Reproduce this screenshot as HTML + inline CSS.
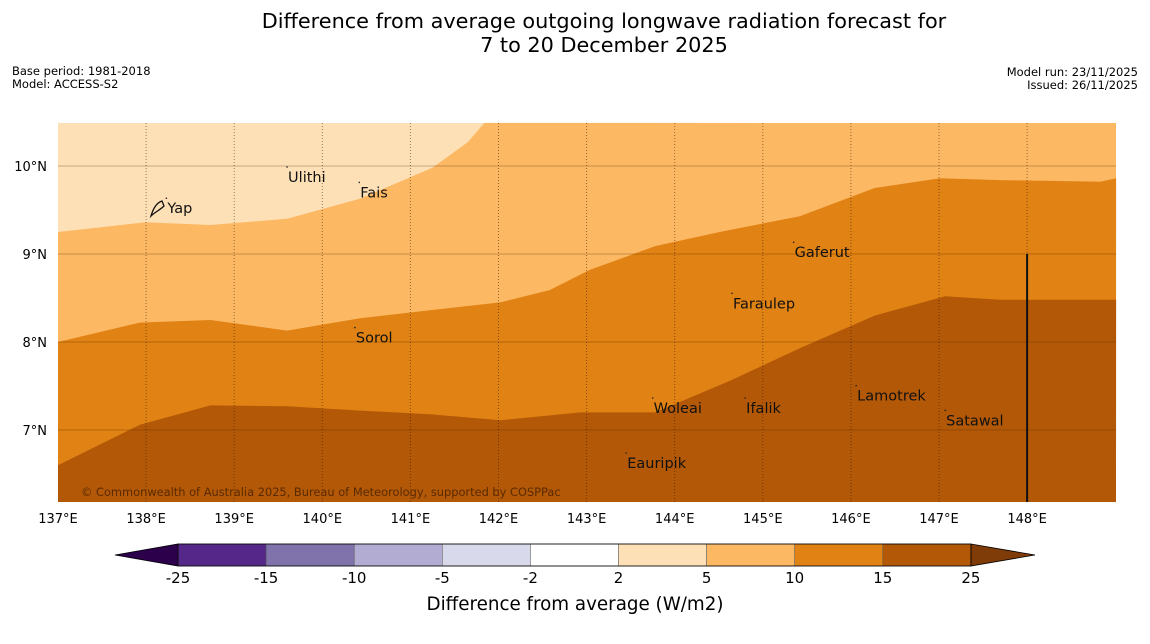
<!DOCTYPE html>
<html><head><meta charset="utf-8"><style>
body{margin:0;background:#fff;font-family:"DejaVu Sans","Liberation Sans",sans-serif;}
svg{display:block}
</style></head><body>
<svg id="c" width="1150" height="644" xmlns="http://www.w3.org/2000/svg" font-family="DejaVu Sans, Liberation Sans, sans-serif">
<text x="604" y="28" font-size="20.8" text-anchor="middle">Difference from average outgoing longwave radiation forecast for</text>
<text x="604" y="52" font-size="20.8" text-anchor="middle">7 to 20 December 2025</text>
<text x="12" y="75" font-size="11.5">Base period: 1981-2018</text>
<text x="12" y="88" font-size="11.5">Model: ACCESS-S2</text>
<text x="1138" y="76" font-size="11.5" text-anchor="end">Model run: 23/11/2025</text>
<text x="1138" y="89" font-size="11.5" text-anchor="end">Issued: 26/11/2025</text>
<g id="map"></g>
<g id="cb"></g>
</svg>
<script>
const NS="http://www.w3.org/2000/svg";
const lonTicks=[137,138,139,140,141,142,143,144,145,146,147,148];
const latTicks=[7,8,9,10];
const b1Lon=[137,137.99,138.73,139.60,140.43,141.25,141.65,141.84];
const b1Lat=[9.25,9.36,9.33,9.40,9.63,9.98,10.27,10.49];
const b2Lon=[137,137.93,138.73,139.60,140.43,141.22,142.02,142.58,143.04,143.78,144.51,145.42,146.27,147.01,147.69,148.37,148.83,149.01];
const b2Lat=[8.0,8.22,8.25,8.13,8.27,8.36,8.45,8.59,8.82,9.09,9.25,9.43,9.75,9.86,9.84,9.83,9.82,9.86];
const b3Lon=[137,137.93,138.73,139.60,140.43,141.22,142.02,142.93,143.78,144.63,145.42,146.27,147.07,147.69,149.01];
const b3Lat=[6.60,7.06,7.28,7.27,7.22,7.18,7.11,7.20,7.20,7.56,7.93,8.30,8.52,8.48,8.48];
const islands=["Yap","Ulithi","Fais","Gaferut","Faraulep","Sorol","Woleai","Ifalik","Lamotrek","Satawal","Eauripik"];
const islLon=[138.23,139.60,140.42,145.35,144.65,140.37,143.75,144.80,146.06,147.07,143.45];
const islLat=[9.52,9.875,9.70,9.02,8.44,8.05,7.25,7.25,7.39,7.11,6.625];
const cbLabels=["-25","-15","-10","-5","-2","2","5","10","15","25"];
const cbColors=["#542788","#8073ac","#b2abd2","#d8daeb","#ffffff","#fee0b6","#fdb863","#e08214","#b35806"];
const X0=58,X1=1116,Y0=123,Y1=502;
const x=lon=>58+(lon-137)*88.1;
const y=lat=>166+(10-lat)*88;
function el(t,a,p){const e=document.createElementNS(NS,t);for(const k in a)e.setAttribute(k,a[k]);p.appendChild(e);return e;}
const map=document.getElementById('map');
function pts(lo,la){return lo.map((v,i)=>x(v).toFixed(1)+','+y(la[i]).toFixed(1)).join(' ');}
let r=el('rect',{x:X0,y:Y0,width:X1-X0,height:Y1-Y0,fill:'#fee0b6'},map);

let p=el('polygon',{points:pts(b1Lon,b1Lat)+` ${X1},${Y0} ${X1},${Y1} ${X0},${Y1}`,fill:'#fdb863'},map);

p=el('polygon',{points:pts(b2Lon,b2Lat)+` ${X1},${Y1} ${X0},${Y1}`,fill:'#e08214'},map);

p=el('polygon',{points:pts(b3Lon,b3Lat)+` ${X1},${Y1} ${X0},${Y1}`,fill:'#b35806'},map);

latTicks.forEach(l=>{
 let g=el('line',{x1:X0,x2:X1,y1:y(l),y2:y(l),stroke:'rgba(80,40,0,0.3)','stroke-width':1},map);
 
 let t=el('text',{x:47,y:y(l)+5,'font-size':13,'text-anchor':'end'},map);t.textContent=l+'°N';
 
});
lonTicks.forEach(l=>{
 if(l>137){let g=el('line',{x1:x(l),x2:x(l),y1:Y0,y2:Y1,stroke:'rgba(40,20,0,0.5)','stroke-width':1,'stroke-dasharray':'1,2'},map);
 }
 let t=el('text',{x:x(l),y:523,'font-size':13,'text-anchor':'middle'},map);t.textContent=l+'°E';
 
});
let bl=el('line',{x1:x(148),x2:x(148),y1:y(9),y2:Y1,stroke:'#111','stroke-width':2},map);

islands.forEach((n,i)=>{
 let d=el('circle',{cx:x(islLon[i]),cy:y(islLat[i])-10,r:0.8,fill:'#222'},map);
 
 let t=el('text',{x:x(islLon[i])+1,y:y(islLat[i])+5,'font-size':14.5,fill:'#111'},map);t.textContent=n;
 
});
let yi=el('path',{d:'M151,216 C153,209 156,203 162,201 L164,206 C160,210 155,212 151,216 Z',fill:'none',stroke:'#111','stroke-width':1.3},map);

let cp=el('text',{x:81,y:496,'font-size':11.4,fill:'#5a2a00'},map);cp.textContent='© Commonwealth of Australia 2025, Bureau of Meteorology, supported by COSPPac';

const cb=document.getElementById('cb');
const CX0=178,CW=88.1,CY=544,CH=22;
let tl=el('polygon',{points:`115,555 ${CX0},${CY} ${CX0},${CY+CH}`,fill:'#2d004b',stroke:'#000','stroke-width':0.8},cb);

cbColors.forEach((c,i)=>{let s=el('rect',{x:CX0+i*CW,y:CY,width:CW,height:CH,fill:c,stroke:'#555','stroke-width':0.5},cb);
 });
let tr=el('polygon',{points:`${CX0+9*CW},${CY} 1035,555 ${CX0+9*CW},${CY+CH}`,fill:'#7f3b08',stroke:'#000','stroke-width':0.8},cb);

el('rect',{x:CX0,y:CY,width:9*CW,height:CH,fill:'none',stroke:'#000','stroke-width':0.8},cb);
cbLabels.forEach((l,i)=>{let t=el('text',{x:CX0+i*CW,y:583,'font-size':15,'text-anchor':'middle'},cb);t.textContent=l;
 });
let ct=el('text',{x:575,y:610,'font-size':18.3,'text-anchor':'middle'},cb);ct.textContent='Difference from average (W/m2)';

</script>
</body></html>
